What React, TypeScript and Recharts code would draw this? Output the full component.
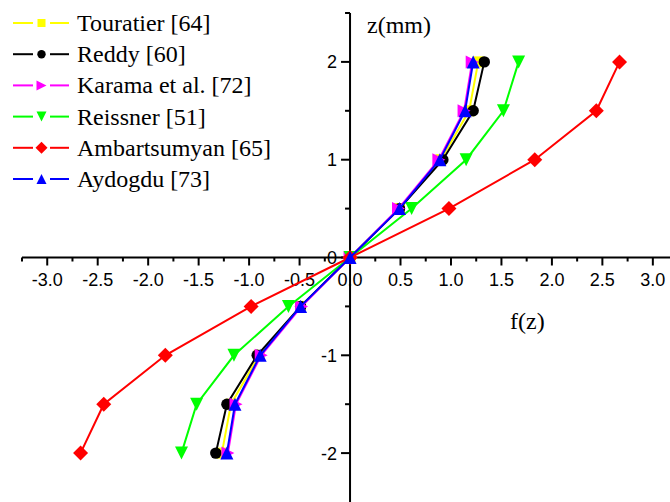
import React from 'react';
import {
  ReferenceDot,
  ReferenceLine,
  Scatter,
  ScatterChart,
  XAxis,
  YAxis,
} from 'recharts';

// z through the thickness (mm)
const zValues = [-2, -1.5, -1, -0.5, 0, 0.5, 1, 1.5, 2];

// f(z), one array per theory
const touratier = [-1.27, -1.18, -0.9, -0.49, 0, 0.49, 0.9, 1.18, 1.27];
const reddy = [-1.33, -1.22, -0.92, -0.49, 0, 0.49, 0.92, 1.22, 1.33];
const karama = [-1.21, -1.13, -0.88, -0.48, 0, 0.48, 0.88, 1.13, 1.21];
const reissner = [-1.67, -1.52, -1.15, -0.61, 0, 0.61, 1.15, 1.52, 1.67];
const ambartsumyan = [-2.67, -2.44, -1.83, -0.98, 0, 0.98, 1.83, 2.44, 2.67];
const aydogdu = [-1.22, -1.14, -0.89, -0.49, 0, 0.49, 0.89, 1.14, 1.22];

const xMajorTicks = [-3, -2.5, -2, -1.5, -1, -0.5, 0, 0.5, 1, 1.5, 2, 2.5, 3];
const xMinorTicks = [
  -3.25, -2.75, -2.25, -1.75, -1.25, -0.75, -0.25, 0.25, 0.75, 1.25, 1.75,
  2.25, 2.75,
];
const yMajorTicks = [-2, -1, 0, 1, 2];
const yMinorTicks = [-1.5, -0.5, 0.5, 1.5, 2.5];

type MarkerKind = 'square' | 'circle' | 'right' | 'down' | 'diamond' | 'up';

const series: Array<{
  name: string;
  values: number[];
  color: string;
  marker: MarkerKind;
}> = [
  { name: 'Touratier [64]', values: touratier, color: '#ffff00', marker: 'square' },
  { name: 'Reddy [60]', values: reddy, color: '#000000', marker: 'circle' },
  { name: 'Karama et al. [72]', values: karama, color: '#ff00ff', marker: 'right' },
  { name: 'Reissner [51]', values: reissner, color: '#00ff00', marker: 'down' },
  { name: 'Ambartsumyan [65]', values: ambartsumyan, color: '#ff0000', marker: 'diamond' },
  { name: 'Aydogdu [73]', values: aydogdu, color: '#0000ff', marker: 'up' },
];

const sansFont = '"Liberation Sans", Arial, sans-serif';
const serifFont = '"Liberation Serif", "Times New Roman", serif';

function Marker({ kind, cx, cy, color, s = 6.5 }: { kind: MarkerKind; cx: number; cy: number; color: string; s?: number }) {
  if (cx == null || cy == null) return null;
  switch (kind) {
    case 'square':
      return <rect x={cx - s + 1} y={cy - s + 1} width={2 * s - 2} height={2 * s - 2} fill={color} />;
    case 'circle':
      return <circle cx={cx} cy={cy} r={s - 0.8} fill={color} />;
    case 'right':
      return <polygon points={`${cx - s},${cy - s} ${cx + s},${cy} ${cx - s},${cy + s}`} fill={color} />;
    case 'down':
      return <polygon points={`${cx - s},${cy - s} ${cx + s},${cy - s} ${cx},${cy + s}`} fill={color} />;
    case 'diamond':
      return <polygon points={`${cx},${cy - s - 1} ${cx + s + 1},${cy} ${cx},${cy + s + 1} ${cx - s - 1},${cy}`} fill={color} />;
    case 'up':
    default:
      return <polygon points={`${cx - s},${cy + s} ${cx + s},${cy + s} ${cx},${cy - s}`} fill={color} />;
  }
}

function formatX(v: number) {
  return v.toFixed(1);
}

export default function App() {
  return (
    <div style={{ position: 'absolute', left: 0, top: 0, width: 670, height: 502, background: '#fff' }}>
      <ScatterChart
        width={670}
        height={502}
        margin={{ top: 13, right: 0, bottom: 0, left: 22 }}
      >
        <XAxis type="number" dataKey="f" domain={[-3.25, 3.17]} allowDataOverflow hide />
        <YAxis type="number" dataKey="z" domain={[-2.5, 2.5]} allowDataOverflow hide />

        <ReferenceLine y={0} stroke="#000" strokeWidth={2} />
        <ReferenceLine x={0} stroke="#000" strokeWidth={2} />

        {xMinorTicks.map((t) => (
          <ReferenceDot
            key={`xm${t}`}
            x={t}
            y={0}
            r={1}
            shape={(p: any) => (
              <line x1={p.cx} y1={p.cy} x2={p.cx} y2={p.cy + 4} stroke="#000" strokeWidth={2} />
            )}
          />
        ))}
        {xMajorTicks.map((t) => (
          <ReferenceDot
            key={`xM${t}`}
            x={t}
            y={0}
            r={1}
            shape={(p: any) => (
              <g>
                <line x1={p.cx} y1={p.cy} x2={p.cx} y2={p.cy + 8} stroke="#000" strokeWidth={2} />
                <text
                  x={p.cx}
                  y={p.cy + 28}
                  textAnchor="middle"
                  fontFamily={sansFont}
                  fontSize={18}
                  fill="#000"
                >
                  {formatX(t)}
                </text>
              </g>
            )}
          />
        ))}
        {yMinorTicks.map((t) => (
          <ReferenceDot
            key={`ym${t}`}
            x={0}
            y={t}
            r={1}
            shape={(p: any) => (
              <line x1={p.cx - 5} y1={p.cy} x2={p.cx} y2={p.cy} stroke="#000" strokeWidth={2} />
            )}
          />
        ))}
        {yMajorTicks.map((t) => (
          <ReferenceDot
            key={`yM${t}`}
            x={0}
            y={t}
            r={1}
            shape={(p: any) => (
              <g>
                <line x1={p.cx - 9} y1={p.cy} x2={p.cx} y2={p.cy} stroke="#000" strokeWidth={2} />
                <text
                  x={p.cx - 13}
                  y={p.cy + 6.5}
                  textAnchor="end"
                  fontFamily={sansFont}
                  fontSize={18}
                  fill="#000"
                >
                  {t}
                </text>
              </g>
            )}
          />
        ))}

        {series.map((s) => (
          <Scatter
            key={s.name}
            name={s.name}
            data={s.values.map((f, i) => ({ f, z: zValues[i] }))}
            line={{ stroke: s.color, strokeWidth: 2 }}
            shape={(p: any) => <Marker kind={s.marker} cx={p.cx} cy={p.cy} color={s.color} />}
            isAnimationActive={false}
          />
        ))}
      </ScatterChart>

      {/* axis titles */}
      <div style={{ position: 'absolute', left: 367, top: 10, fontFamily: serifFont, fontSize: 24, lineHeight: '30px' }}>
        z(mm)
      </div>
      <div style={{ position: 'absolute', left: 510, top: 306, fontFamily: serifFont, fontSize: 24, lineHeight: '30px' }}>
        f(z)
      </div>

      {/* legend */}
      <svg style={{ position: 'absolute', left: 0, top: 0 }} width={300} height={200}>
        {series.map((s, i) => {
          const cy = 23 + i * 31.2;
          return (
            <g key={s.name}>
              <line x1={13} y1={cy} x2={33} y2={cy} stroke={s.color} strokeWidth={2} />
              <line x1={50} y1={cy} x2={69} y2={cy} stroke={s.color} strokeWidth={2} />
              <Marker kind={s.marker} cx={41.5} cy={cy} color={s.color} s={5} />
              <text x={77} y={cy + 8} fontFamily={serifFont} fontSize={24} fill="#000">
                {s.name}
              </text>
            </g>
          );
        })}
      </svg>
    </div>
  );
}
